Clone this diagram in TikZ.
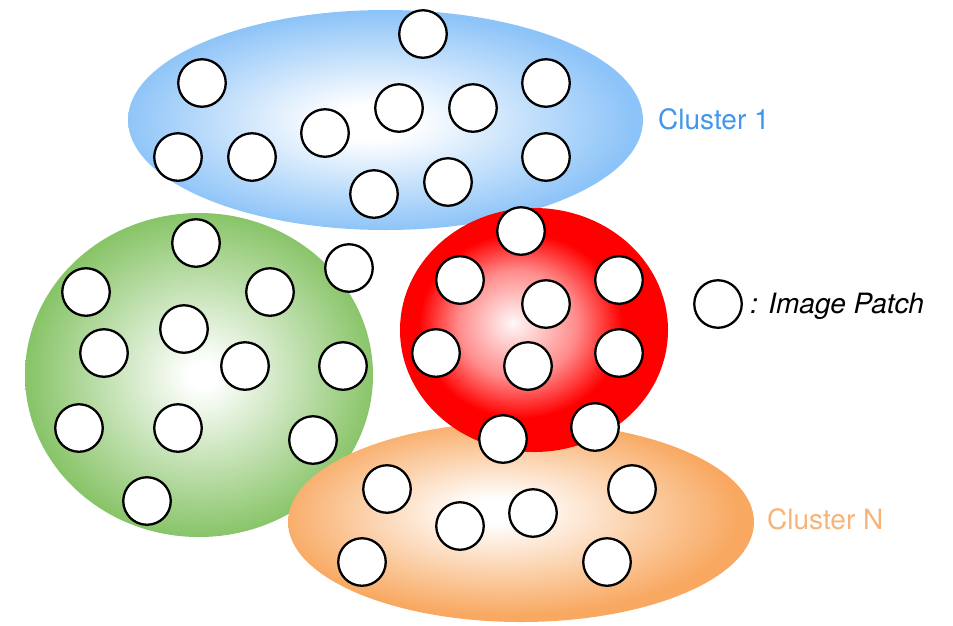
\documentclass[tikz,border=0pt]{standalone}
\usepackage{fontspec}
\setmainfont{TeX Gyre Heros}
\usetikzlibrary{shapes.geometric}

\definecolor{blueedge}{RGB}{140,195,248}
\definecolor{greenedge}{RGB}{136,196,104}
\definecolor{redc}{RGB}{255,0,0}
\definecolor{orangeedge}{RGB}{248,168,96}
\definecolor{bluetext}{RGB}{66,150,236}
\definecolor{orangetext}{RGB}{247,180,122}

% radial shadings: near-white core fading to the cluster colour at the rim
\pgfdeclareradialshading{blueball}{\pgfpoint{-1.5bp}{-0.5bp}}{color(0bp)=(white); color(4bp)=(white); color(25bp)=(blueedge); color(50bp)=(blueedge)}
\pgfdeclareradialshading{greenball}{\pgfpoint{0.5bp}{0bp}}{color(0bp)=(white); color(2bp)=(white); color(25bp)=(greenedge); color(50bp)=(greenedge)}
\pgfdeclareradialshading{redball}{\pgfpoint{-4bp}{1.5bp}}{color(0bp)=(red!3!white); color(11bp)=(red!45!white); color(19bp)=(redc); color(25bp)=(redc); color(50bp)=(redc)}
\pgfdeclareradialshading{orangeball}{\pgfpoint{-3bp}{3bp}}{color(0bp)=(white); color(3bp)=(white); color(25bp)=(orangeedge); color(50bp)=(orangeedge)}

\tikzset{
  patch/.style={circle, draw=black, line width=2.3pt, fill=white, minimum size=47.5pt, inner sep=0pt},
  clusterlabel/.style={font=\fontsize{28}{30}\selectfont, anchor=base west, inner sep=0pt},
}

\begin{document}
\begin{tikzpicture}[x=1pt,y=-1pt]
\useasboundingbox (0,0) rectangle (953,625);

% clusters
\path[shading=blueball] (385.5,120) ellipse [x radius=257.5, y radius=110];
\path[shading=greenball] (199,375) ellipse [x radius=174, y radius=162];
\path[shading=orangeball] (521,522) ellipse [x radius=233, y radius=100];
\path[shading=redball] (534,330) ellipse [x radius=134, y radius=122];

% cluster 1 patches
\node[patch] (b1) at (423,34) {};
\node[patch] (b2) at (202,83) {};
\node[patch] (b3) at (546,83) {};
\node[patch] (b4) at (399,108) {};
\node[patch] (b5) at (473,108) {};
\node[patch] (b6) at (325,133) {};
\node[patch] (b7) at (178,157) {};
\node[patch] (b8) at (252,157) {};
\node[patch] (b9) at (546,157) {};
\node[patch] (b10) at (374,194) {};
\node[patch] (b11) at (448,182) {};

% green cluster patches
\node[patch] (g1) at (196,243) {};
\node[patch] (g2) at (86,292) {};
\node[patch] (g3) at (270,292) {};
\node[patch] (g4) at (349,268) {};
\node[patch] (g5) at (184,329) {};
\node[patch] (g6) at (104,353) {};
\node[patch] (g7) at (245,366) {};
\node[patch] (g8) at (343,366) {};
\node[patch] (g9) at (79,428) {};
\node[patch] (g10) at (178,428) {};
\node[patch] (g11) at (313,440) {};
\node[patch] (g12) at (147,501) {};

% cluster N patches
\node[patch] (o1) at (387,489) {};
\node[patch] (o2) at (460,526) {};
\node[patch] (o3) at (533,513) {};
\node[patch] (o4) at (632,489) {};
\node[patch] (o5) at (362,562) {};
\node[patch] (o6) at (607,562) {};

% red cluster patches
\node[patch] (r1) at (521,231) {};
\node[patch] (r2) at (460,280) {};
\node[patch] (r3) at (619,280) {};
\node[patch] (r4) at (546,304) {};
\node[patch] (r5) at (436,353) {};
\node[patch] (r6) at (528,366) {};
\node[patch] (r7) at (619,353) {};
\node[patch] (r8) at (503,439) {};
\node[patch] (r9) at (595,427) {};

% labels and legend
\node[clusterlabel, text=bluetext] (lab1) at (658,129) {Cluster 1};
\node[clusterlabel, text=orangetext] (labN) at (767,529) {Cluster N};
\node[patch] (legend) at (718,304) {};
\node[clusterlabel, font=\fontsize{28}{30}\selectfont\itshape] (legtext) at (750,313) {: Image Patch};
\end{tikzpicture}
\end{document}
